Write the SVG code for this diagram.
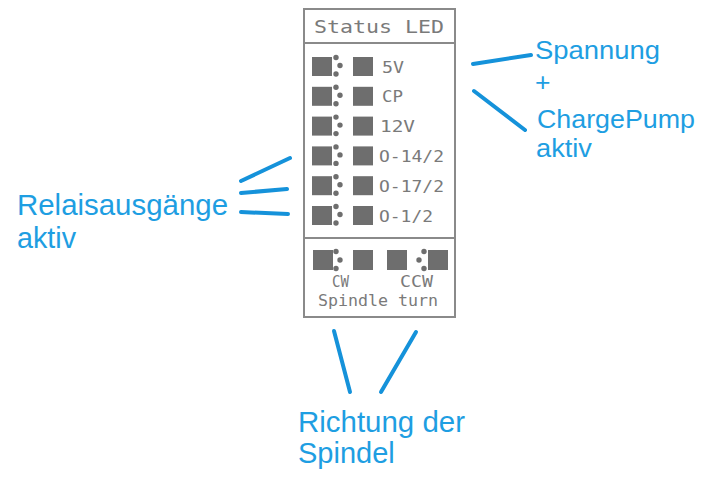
<svg xmlns="http://www.w3.org/2000/svg" width="701" height="481" viewBox="0 0 701 481">
<style>
.frame{fill:none;stroke:#8a8a8a;stroke-width:2}
.sq{fill:#6e6e6e}
.dot{fill:#6e6e6e}
.mono{font-family:"DejaVu Sans Mono","Liberation Mono",monospace;fill:#7a7a7a}
.lbl{font-family:"Liberation Sans",Arial,sans-serif;fill:#1e9ee2}
.conn{stroke:#1592da;stroke-width:4;stroke-linecap:round;fill:none}
</style>
<defs>
<g id="led">
<rect class="sq" x="0" y="-9.5" width="20" height="19"/>
<circle class="dot" cx="24" cy="-9" r="2.7"/>
<circle class="dot" cx="28" cy="-1" r="2.7"/>
<circle class="dot" cx="24" cy="7.5" r="2.7"/>
<rect class="sq" x="41" y="-9.5" width="20" height="19"/>
</g>
</defs>
<g id="status-panel">
<rect class="frame" x="304" y="9" width="151" height="308"/>
<line class="frame" x1="304" y1="43" x2="455" y2="43"/>
<line class="frame" x1="304" y1="238" x2="455" y2="238"/>
<text class="mono" x="314" y="33" font-size="18" textLength="130" lengthAdjust="spacingAndGlyphs">Status LED</text>
</g>
<g id="led-5v"><use href="#led" x="312" y="66.5"/><text class="mono" x="382" y="72.5" font-size="15" textLength="22" lengthAdjust="spacingAndGlyphs">5V</text></g>
<g id="led-cp"><use href="#led" x="312" y="96.3"/><text class="mono" x="382" y="102.3" font-size="15" textLength="21" lengthAdjust="spacingAndGlyphs">CP</text></g>
<g id="led-12v"><use href="#led" x="312" y="126.1"/><text class="mono" x="380" y="132.1" font-size="15" textLength="35" lengthAdjust="spacingAndGlyphs">12V</text></g>
<g id="led-o14"><use href="#led" x="312" y="155.9"/><text class="mono" x="379" y="161.9" font-size="15" textLength="65" lengthAdjust="spacingAndGlyphs">O-14/2</text></g>
<g id="led-o17"><use href="#led" x="312" y="185.7"/><text class="mono" x="379" y="191.7" font-size="15" textLength="65" lengthAdjust="spacingAndGlyphs">O-17/2</text></g>
<g id="led-o1"><use href="#led" x="312" y="215.5"/><text class="mono" x="379" y="221.5" font-size="15" textLength="54" lengthAdjust="spacingAndGlyphs">O-1/2</text></g>
<g id="spindle-leds">
<rect class="sq" x="313" y="250" width="20" height="20"/>
<circle class="dot" cx="336" cy="251.5" r="2.7"/>
<circle class="dot" cx="340" cy="260" r="2.7"/>
<circle class="dot" cx="336" cy="268.5" r="2.7"/>
<rect class="sq" x="353" y="250" width="20" height="20"/>
<rect class="sq" x="387" y="250" width="20" height="20"/>
<circle class="dot" cx="424" cy="251.5" r="2.7"/>
<circle class="dot" cx="419" cy="260" r="2.7"/>
<circle class="dot" cx="424" cy="268.5" r="2.7"/>
<rect class="sq" x="428" y="250" width="20" height="20"/>
<text class="mono" x="332" y="287" font-size="15" textLength="17" lengthAdjust="spacingAndGlyphs">CW</text>
<text class="mono" x="400" y="287" font-size="15" textLength="33" lengthAdjust="spacingAndGlyphs">CCW</text>
<text class="mono" x="318" y="306" font-size="16" textLength="120" lengthAdjust="spacingAndGlyphs">Spindle turn</text>
</g>
<g id="connectors">
<line class="conn" x1="473" y1="64" x2="531" y2="55"/>
<line class="conn" x1="474" y1="91" x2="525" y2="130"/>
<line class="conn" x1="241" y1="181" x2="290" y2="158"/>
<line class="conn" x1="241" y1="193" x2="287" y2="189"/>
<line class="conn" x1="241" y1="212" x2="288" y2="214"/>
<line class="conn" x1="334" y1="331" x2="350" y2="392"/>
<line class="conn" x1="416" y1="332" x2="381" y2="392"/>
</g>
<g id="label-spannung">
<text class="lbl" x="535" y="59" font-size="26.5" textLength="125" lengthAdjust="spacingAndGlyphs">Spannung</text>
<text class="lbl" x="535" y="91" font-size="26.5">+</text>
<text class="lbl" x="537" y="128" font-size="26.5" textLength="158" lengthAdjust="spacingAndGlyphs">ChargePump</text>
<text class="lbl" x="536" y="157" font-size="26.5" textLength="56" lengthAdjust="spacingAndGlyphs">aktiv</text>
</g>
<g id="label-relais">
<text class="lbl" x="17" y="215" font-size="29" textLength="211" lengthAdjust="spacingAndGlyphs">Relaisausgänge</text>
<text class="lbl" x="17" y="248" font-size="29" textLength="59" lengthAdjust="spacingAndGlyphs">aktiv</text>
</g>
<g id="label-richtung">
<text class="lbl" x="298" y="432" font-size="29" textLength="167" lengthAdjust="spacingAndGlyphs">Richtung der</text>
<text class="lbl" x="298" y="463" font-size="29">Spindel</text>
</g>
</svg>
